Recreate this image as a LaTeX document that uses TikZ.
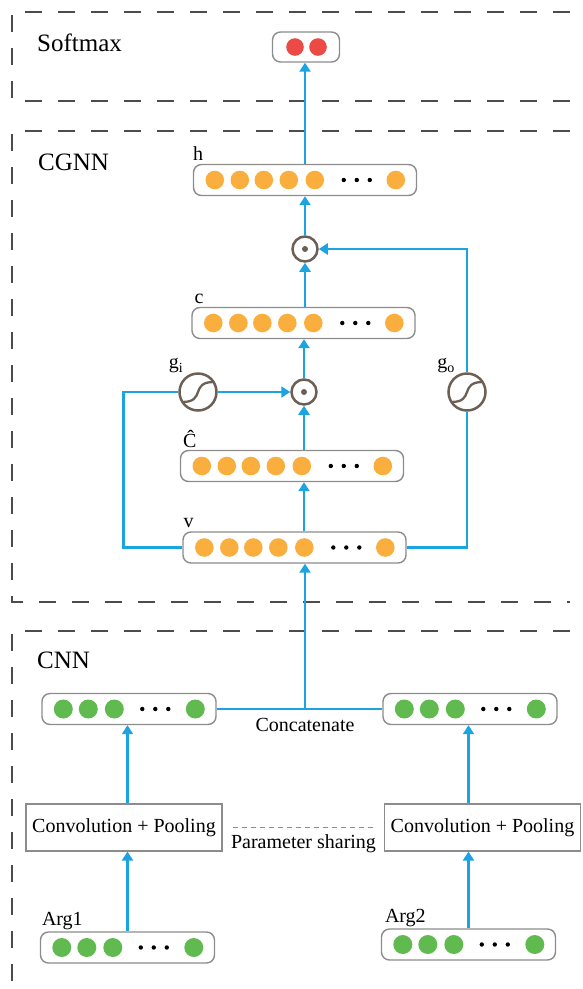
\documentclass[tikz,border=0pt]{standalone}
\usepackage{fontspec}
\setmainfont{Liberation Serif}
\usetikzlibrary{arrows.meta}

\definecolor{flowblue}{RGB}{28,163,226}
\definecolor{dotorange}{RGB}{250,174,62}
\definecolor{dotgreen}{RGB}{96,186,80}
\definecolor{dotred}{RGB}{236,74,68}
\definecolor{gatebrown}{RGB}{108,96,86}
\definecolor{boxgray}{RGB}{140,140,140}

% dots inside the vector boxes
\newcommand{\orangerow}[1]{%
  \foreach \dx in {22,47,71,96,122,203}
    \fill[dotorange] ([xshift=\dx pt]#1.west) circle (9.3pt);
  \foreach \dx in {151,164,177}
    \fill ([xshift=\dx pt]#1.west) circle (2.2pt);
}
\newcommand{\greenrow}[1]{%
  \foreach \dx in {22,47,73,154}
    \fill[dotgreen] ([xshift=\dx pt]#1.west) circle (9.5pt);
  \foreach \dx in {101,114,127}
    \fill ([xshift=\dx pt]#1.west) circle (2.2pt);
}
\newcommand{\sigmoid}[1]{%
  \draw[gatebrown, line width=2.3pt] ([shift={(-15.5pt,-10pt)}]#1.center)
    .. controls ([shift={(8pt,-10pt)}]#1.center) and ([shift={(-8pt,10pt)}]#1.center)
    .. ([shift={(15.5pt,10pt)}]#1.center);
}

\begin{document}
\begin{tikzpicture}[x=1pt, y=-1pt, font=\fontsize{20}{24}\selectfont,
    frame/.style={gray!60!black, line width=1.3pt, dash pattern=on 17pt off 16pt},
    sect/.style={font=\fontsize{25}{30}\selectfont, anchor=west, inner sep=0pt},
    vecbox/.style={draw=boxgray, line width=1.4pt, rounded corners=8pt, minimum width=223, minimum height=31, inner sep=0pt},
    greenbox/.style={vecbox, minimum width=174},
    convbox/.style={draw=boxgray, line width=1.2pt, minimum width=196, minimum height=47, inner sep=0pt},
    gate/.style={circle, draw=gatebrown, line width=2.5pt, minimum size=37, inner sep=0pt},
    prod/.style={circle, draw=gatebrown, line width=2.5pt, minimum size=25, inner sep=0pt},
    lbl/.style={inner sep=0pt},
    link/.style={flowblue, line width=2.5pt},
    flow/.style={link, -{Triangle[length=9pt, width=11pt]}}]

\useasboundingbox (0,0) rectangle (583,989);

% the three layers
\draw[frame] (570,12) -- (12,12) -- (12,101) -- (570,101);
\draw[frame] (570,131) -- (12,131) -- (12,602) -- (570,602);
\draw[frame] (570,631) -- (12,631) -- (12,989);

\node[sect] (softlab) at (37,43) {Softmax};
\node[sect] (cgnnlab) at (38,162) {CGNN};
\node[sect] (cnnlab) at (37,660) {CNN};

\coordinate (axis) at (305,0);

% softmax output
\node[vecbox, minimum width=67, minimum height=30] (soft) at (306,47) {};
\fill[dotred] ([xshift=-11pt]soft.center) circle (8.8pt);
\fill[dotred] ([xshift=12pt]soft.center) circle (8.8pt);

% CGNN
\node[vecbox] (h) at (305,180) {};
\node[vecbox] (c) at (303.5,323) {};
\node[vecbox] (chat) at (292,466) {};
\node[vecbox] (v) at (294.5,547.5) {};
\orangerow{h}
\orangerow{c}
\orangerow{chat}
\orangerow{v}

\node[lbl, anchor=south west] (hlab) at ([shift={(0pt,3pt)}]h.north west) {h};
\node[lbl, anchor=south west] (clab) at ([shift={(3pt,3pt)}]c.north west) {c};
\node[lbl, anchor=south west] (chatlab) at ([shift={(3pt,2pt)}]chat.north west) {Ĉ};
\node[lbl, anchor=south west] (vlab) at ([shift={(1pt,3pt)}]v.north west) {v};

\node[prod] (odot1) at (305,249) {};
\node[prod] (odot2) at (304,392) {};
\fill[gatebrown] (odot1) circle (3pt);
\fill[gatebrown] (odot2) circle (3pt);

\node[gate] (gi) at (198,392) {};
\node[gate] (go) at (467,392) {};
\sigmoid{gi}
\sigmoid{go}
\node[lbl] (gilab) at ([shift={(-22pt,26pt)}]gi.center) {g\textsubscript{i}};
\node[lbl] (golab) at ([shift={(-21pt,26pt)}]go.center) {g\textsubscript{o}};

\draw[flow] (axis |- h.north) -- (axis |- soft.south);
\draw[flow] (odot1.north) -- (axis |- h.south);
\draw[flow] (axis |- c.north) -- (odot1.south);
\draw[flow] (odot2.north) -- (odot2 |- c.south);
\draw[flow] (odot2 |- chat.north) -- (odot2.south);
\draw[flow] (odot2 |- v.north) -- (odot2 |- chat.south);
\draw[link] (v.west) -- ++(-59,0) |- (gi.west);
\draw[flow] (gi.east) -- (odot2.west);
\draw[link] (v.east) -| (go.south);
\draw[flow] (go.north) |- (odot1.east);

% CNN
\node[greenbox] (cnnL) at (129,709) {};
\node[greenbox] (cnnR) at (470,709) {};
\greenrow{cnnL}
\greenrow{cnnR}
\coordinate (cat) at (305,709);
\draw[link] (cnnL.east) -- (cnnR.west);
\draw[flow] (cat) -- (cat |- v.south);
\node[lbl, anchor=north] (catlab) at ([yshift=-9pt]cat) {Concatenate};

\node[convbox] (conv1) at (124,827.5) {Convolution + Pooling};
\node[convbox] (conv2) at (482.5,827.5) {Convolution + Pooling};
\draw[boxgray, line width=1pt, dash pattern=on 5pt off 4pt] ([xshift=10pt]conv1.east) -- ([xshift=-10pt]conv2.west);
\node[lbl, anchor=north] (sharelab) at (303.5,834) {Parameter sharing};

\node[greenbox] (arg1) at (127.5,947.5) {};
\node[greenbox] (arg2) at (468.5,944.5) {};
\greenrow{arg1}
\greenrow{arg2}
\node[lbl, anchor=base west] (arg1lab) at ([shift={(2pt,6pt)}]arg1.north west) {Arg1};
\node[lbl, anchor=base west] (arg2lab) at ([shift={(4pt,6pt)}]arg2.north west) {Arg2};

\draw[flow] (arg1.north) -- (arg1.north |- conv1.south);
\draw[flow] (arg1.north |- conv1.north) -- (arg1.north |- cnnL.south);
\draw[flow] (arg2.north) -- (arg2.north |- conv2.south);
\draw[flow] (arg2.north |- conv2.north) -- (arg2.north |- cnnR.south);

\end{tikzpicture}
\end{document}
